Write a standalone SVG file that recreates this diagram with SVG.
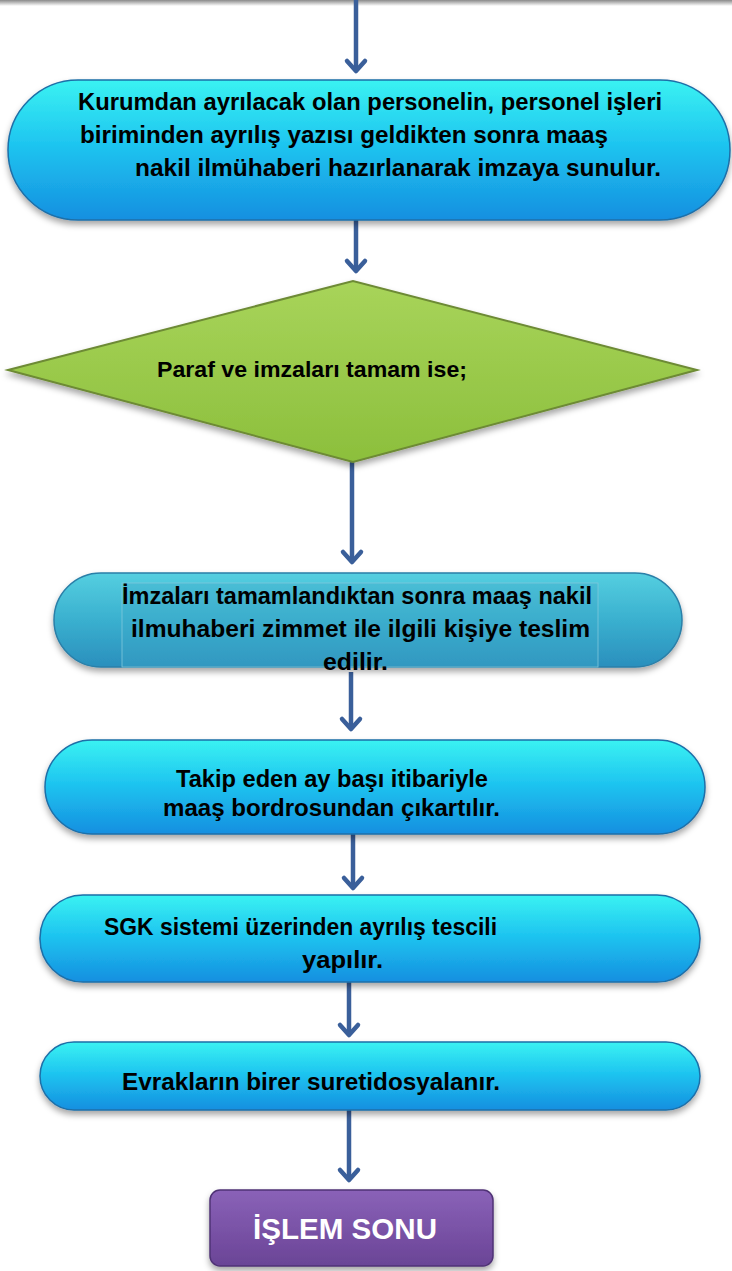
<svg xmlns="http://www.w3.org/2000/svg" width="732" height="1271" viewBox="0 0 732 1271">
<defs>
<linearGradient id="cyan" x1="0" y1="0" x2="0" y2="1">
<stop offset="0" stop-color="#3af2f2"/>
<stop offset="0.45" stop-color="#1fc6f0"/>
<stop offset="1" stop-color="#158fe0"/>
</linearGradient>
<linearGradient id="teal" x1="0" y1="0" x2="0" y2="1">
<stop offset="0" stop-color="#55cfe0"/>
<stop offset="0.5" stop-color="#3ab0cf"/>
<stop offset="1" stop-color="#2a8fbd"/>
</linearGradient>
<linearGradient id="green" x1="0" y1="0" x2="0" y2="1">
<stop offset="0" stop-color="#a8d45a"/>
<stop offset="1" stop-color="#8cbf3c"/>
</linearGradient>
<linearGradient id="purple" x1="0" y1="0" x2="0" y2="1">
<stop offset="0" stop-color="#8a62b8"/>
<stop offset="1" stop-color="#6a4496"/>
</linearGradient>
<linearGradient id="topbar" x1="0" y1="0" x2="0" y2="1">
<stop offset="0" stop-color="#8a8a8a"/>
<stop offset="1" stop-color="#ffffff"/>
</linearGradient>
<filter id="sh" x="-5%" y="-10%" width="110%" height="130%">
<feDropShadow dx="0" dy="4" stdDeviation="3" flood-color="#000" flood-opacity="0.35"/>
</filter>
<style>
.t{font-family:"Liberation Sans",Arial,sans-serif;font-weight:bold;fill:#000;}
.w{font-family:"Liberation Sans",Arial,sans-serif;font-weight:bold;fill:#fff;}
.c{stroke:#3a5f9a;stroke-width:4.5;fill:none;}
.h{stroke:#3a5f9a;stroke-width:4.5;fill:none;stroke-linecap:round;stroke-linejoin:round;}
.edge{stroke:#1d6fa8;stroke-width:1.5;}
</style>
</defs>
<rect x="0" y="0" width="732" height="1271" fill="#ffffff"/>
<rect x="0" y="0" width="732" height="6" fill="url(#topbar)"/>

<g id="connectors">
<line class="c" x1="356" y1="0" x2="356" y2="70"/><polyline class="h" points="347,61 356,71 365,61"/>
<line class="c" x1="356" y1="220" x2="356" y2="270"/><polyline class="h" points="347,261 356,271 365,261"/>
<line class="c" x1="352" y1="456" x2="352" y2="561"/><polyline class="h" points="343,552 352,562 361,552"/>
<line class="c" x1="351" y1="672" x2="351" y2="728"/><polyline class="h" points="342,719 351,729 360,719"/>
<line class="c" x1="353" y1="834" x2="353" y2="887"/><polyline class="h" points="344,878 353,888 362,878"/>
<line class="c" x1="349" y1="982" x2="349" y2="1034"/><polyline class="h" points="340,1025 349,1035 358,1025"/>
<line class="c" x1="349" y1="1110" x2="349" y2="1179"/><polyline class="h" points="340,1170 349,1180 358,1170"/>
</g>

<g id="node1">
<rect x="8" y="80" width="722" height="140" rx="70" ry="70" fill="url(#cyan)" class="edge" filter="url(#sh)"/>
<text class="t" font-size="24" x="78" y="110" textLength="584" lengthAdjust="spacingAndGlyphs">Kurumdan ayrılacak olan personelin, personel işleri</text>
<text class="t" font-size="24" x="80" y="143" textLength="528" lengthAdjust="spacingAndGlyphs">biriminden ayrılış yazısı geldikten sonra maaş</text>
<text class="t" font-size="24" x="135" y="176" textLength="526" lengthAdjust="spacingAndGlyphs">nakil ilmühaberi hazırlanarak imzaya sunulur.</text>
</g>

<g id="node2">
<polygon points="8,370 353,281 697,370 353,462" fill="url(#green)" stroke="#6d8a35" stroke-width="2" filter="url(#sh)"/>
<text class="t" font-size="22" x="157" y="377" textLength="310" lengthAdjust="spacingAndGlyphs">Paraf ve imzaları tamam ise;</text>
</g>

<g id="node3">
<rect x="54" y="573" width="628" height="94" rx="47" ry="47" fill="url(#teal)" stroke="#2a7fa8" stroke-width="1.5" filter="url(#sh)"/>
<rect x="122" y="583" width="476" height="84" fill="#3fa9c9" fill-opacity="0.35" stroke="#7fc9dc" stroke-width="0.8"/>
<text class="t" font-size="23" x="122" y="604" textLength="470" lengthAdjust="spacingAndGlyphs">İmzaları tamamlandıktan sonra maaş nakil</text>
<text class="t" font-size="23" x="131" y="637" textLength="459" lengthAdjust="spacingAndGlyphs">ilmuhaberi zimmet ile ilgili kişiye teslim</text>
<text class="t" font-size="23" x="323" y="670" textLength="65" lengthAdjust="spacingAndGlyphs">edilir.</text>
</g>

<g id="node4">
<rect x="45" y="740" width="660" height="94" rx="47" ry="47" fill="url(#cyan)" class="edge" filter="url(#sh)"/>
<text class="t" font-size="23" x="176" y="787" textLength="312" lengthAdjust="spacingAndGlyphs">Takip eden ay başı itibariyle</text>
<text class="t" font-size="23" x="163" y="816" textLength="337" lengthAdjust="spacingAndGlyphs">maaş bordrosundan çıkartılır.</text>
</g>

<g id="node5">
<rect x="40" y="895" width="660" height="87" rx="43" ry="43" fill="url(#cyan)" class="edge" filter="url(#sh)"/>
<text class="t" font-size="23" x="104" y="935" textLength="393" lengthAdjust="spacingAndGlyphs">SGK sistemi üzerinden ayrılış tescili</text>
<text class="t" font-size="23" x="302" y="968" textLength="81" lengthAdjust="spacingAndGlyphs">yapılır.</text>
</g>

<g id="node6">
<rect x="40" y="1042" width="660" height="68" rx="34" ry="34" fill="url(#cyan)" class="edge" filter="url(#sh)"/>
<text class="t" font-size="23" x="122" y="1090" textLength="378" lengthAdjust="spacingAndGlyphs">Evrakların birer suretidosyalanır.</text>
</g>

<g id="node7">
<rect x="210" y="1190" width="283" height="76" rx="10" ry="10" fill="url(#purple)" stroke="#4f3275" stroke-width="1.5" filter="url(#sh)"/>
<text class="w" font-size="30" x="253" y="1239" textLength="184" lengthAdjust="spacingAndGlyphs">İŞLEM SONU</text>
</g>
</svg>
